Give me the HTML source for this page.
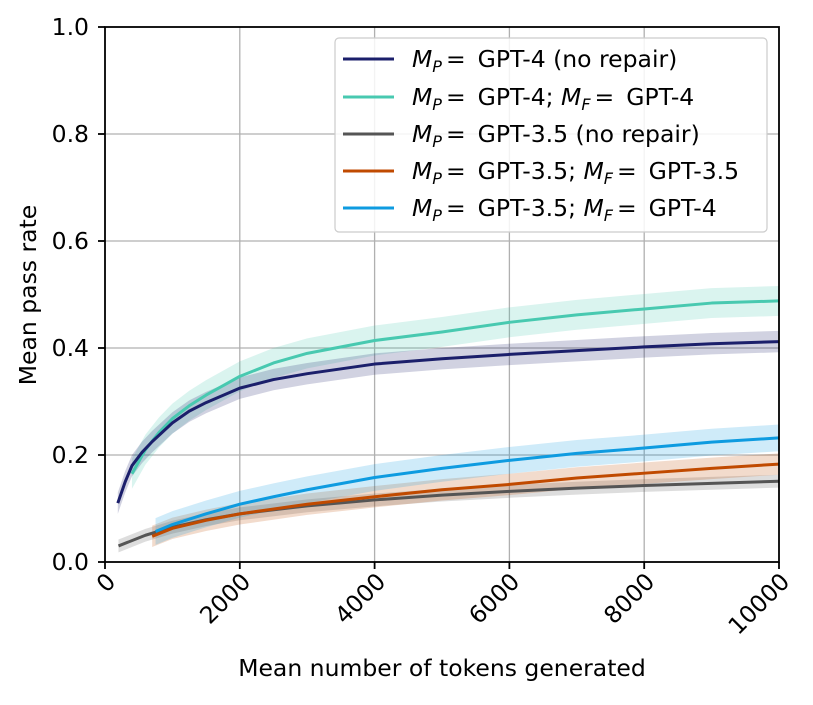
<!DOCTYPE html>
<html><head><meta charset="utf-8"><style>
body{margin:0;background:#fff}
svg text{font-family:"DejaVu Sans","Liberation Sans",sans-serif;fill:#000}
</style></head><body>
<svg id="s" width="813" height="700" viewBox="0 0 813 700" xmlns="http://www.w3.org/2000/svg">
<rect width="813" height="700" fill="#fff"/>
<g id="grid" stroke="#b0b0b0" stroke-width="1.3"></g>
<g id="series"></g>
<rect x="105" y="27" width="674" height="535" fill="none" stroke="#000" stroke-width="1.8"/>
<g id="ticks" stroke="#000" stroke-width="1.8"></g>
<g font-size="23.5" text-anchor="end">
<text x="89" y="570">0.0</text><text x="89" y="463">0.2</text><text x="89" y="356">0.4</text>
<text x="89" y="249">0.6</text><text x="89" y="142">0.8</text><text x="89" y="35">1.0</text>
</g>
<g font-size="23.5" text-anchor="end">
<text transform="translate(117,583) rotate(-45)">0</text>
<text transform="translate(252,583) rotate(-45)">2000</text>
<text transform="translate(387,583) rotate(-45)">4000</text>
<text transform="translate(521,583) rotate(-45)">6000</text>
<text transform="translate(656,583) rotate(-45)">8000</text>
<text transform="translate(791,583) rotate(-45)">10000</text>
</g>
<text x="442" y="676" font-size="23.5" text-anchor="middle">Mean number of tokens generated</text>
<text transform="translate(36,295) rotate(-90)" font-size="23.5" text-anchor="middle">Mean pass rate</text>
<rect x="335" y="38" width="432" height="194" rx="4" fill="#fff" fill-opacity="0.85" stroke="#ccc" stroke-width="1.2"/>
<g stroke-width="3">
<line x1="343" x2="394" y1="59" y2="59" stroke="#1b1f6b"/>
<line x1="343" x2="394" y1="97" y2="97" stroke="#48c9b0"/>
<line x1="343" x2="394" y1="134" y2="134" stroke="#555"/>
<line x1="343" x2="394" y1="171" y2="171" stroke="#c04a00"/>
<line x1="343" x2="394" y1="208" y2="208" stroke="#0e9be0"/>
</g>
<g font-size="23.5">
<text x="412" y="67"><tspan font-style="italic">M</tspan><tspan font-style="italic" font-size="16" dy="5">P</tspan><tspan dy="-5" dx="4">=</tspan><tspan dx="12">GPT-4 (no repair)</tspan></text>
<text x="412" y="105"><tspan font-style="italic">M</tspan><tspan font-style="italic" font-size="16" dy="5">P</tspan><tspan dy="-5" dx="4">=</tspan><tspan dx="12">GPT-4; </tspan><tspan font-style="italic">M</tspan><tspan font-style="italic" font-size="16" dy="5">F</tspan><tspan dy="-5" dx="4">=</tspan><tspan dx="12">GPT-4</tspan></text>
<text x="412" y="142"><tspan font-style="italic">M</tspan><tspan font-style="italic" font-size="16" dy="5">P</tspan><tspan dy="-5" dx="4">=</tspan><tspan dx="12">GPT-3.5 (no repair)</tspan></text>
<text x="412" y="179"><tspan font-style="italic">M</tspan><tspan font-style="italic" font-size="16" dy="5">P</tspan><tspan dy="-5" dx="4">=</tspan><tspan dx="12">GPT-3.5; </tspan><tspan font-style="italic">M</tspan><tspan font-style="italic" font-size="16" dy="5">F</tspan><tspan dy="-5" dx="4">=</tspan><tspan dx="12">GPT-3.5</tspan></text>
<text x="412" y="216"><tspan font-style="italic">M</tspan><tspan font-style="italic" font-size="16" dy="5">P</tspan><tspan dy="-5" dx="4">=</tspan><tspan dx="12">GPT-3.5; </tspan><tspan font-style="italic">M</tspan><tspan font-style="italic" font-size="16" dy="5">F</tspan><tspan dy="-5" dx="4">=</tspan><tspan dx="12">GPT-4</tspan></text>
</g>
<script>
(function(){
var NS="http://www.w3.org/2000/svg";
function X(t){return 105+t*0.0674}function Y(v){return 562-v*535}
var g=document.getElementById('grid'),tk=document.getElementById('ticks');
[2000,4000,6000,8000].forEach(function(t){var l=document.createElementNS(NS,'line');l.setAttribute('x1',X(t));l.setAttribute('x2',X(t));l.setAttribute('y1',27);l.setAttribute('y2',562);g.appendChild(l);});
[0.2,0.4,0.6,0.8].forEach(function(v){var l=document.createElementNS(NS,'line');l.setAttribute('x1',105);l.setAttribute('x2',779);l.setAttribute('y1',Y(v));l.setAttribute('y2',Y(v));g.appendChild(l);});
[0,2000,4000,6000,8000,10000].forEach(function(t){var l=document.createElementNS(NS,'line');l.setAttribute('x1',X(t));l.setAttribute('x2',X(t));l.setAttribute('y1',562);l.setAttribute('y2',569);tk.appendChild(l);});
[0,0.2,0.4,0.6,0.8,1].forEach(function(v){var l=document.createElementNS(NS,'line');l.setAttribute('x1',98);l.setAttribute('x2',105);l.setAttribute('y1',Y(v));l.setAttribute('y2',Y(v));tk.appendChild(l);});
var S=[
["#555",0.012,[[200,0.03],[600,0.05],[1000,0.065],[1500,0.079],[2000,0.09],[3000,0.105],[4000,0.116],[5000,0.125],[6000,0.132],[7000,0.138],[8000,0.143],[9000,0.147],[10000,0.151]]],
["#c04a00",0.02,[[700,0.048],[1000,0.063],[1500,0.078],[2000,0.09],[3000,0.108],[4000,0.122],[5000,0.135],[6000,0.145],[7000,0.157],[8000,0.166],[9000,0.175],[10000,0.183]]],
["#0e9be0",0.025,[[750,0.057],[1000,0.07],[1500,0.09],[2000,0.108],[2500,0.122],[3000,0.135],[4000,0.158],[5000,0.175],[6000,0.19],[7000,0.203],[8000,0.213],[9000,0.224],[10000,0.232]]],
["#48c9b0",0.028,[[400,0.165],[600,0.21],[800,0.242],[1000,0.268],[1250,0.292],[1500,0.312],[2000,0.347],[2500,0.372],[3000,0.39],[4000,0.414],[5000,0.43],[6000,0.448],[7000,0.462],[8000,0.473],[9000,0.484],[10000,0.488]]],
["#1b1f6b",0.02,[[190,0.11],[300,0.15],[400,0.18],[550,0.205],[700,0.225],[1000,0.26],[1250,0.282],[1500,0.298],[2000,0.325],[2500,0.341],[3000,0.352],[4000,0.37],[5000,0.38],[6000,0.388],[7000,0.395],[8000,0.402],[9000,0.408],[10000,0.412]]]
];
var sg=document.getElementById('series');
S.forEach(function(s){
 var c=s[0],w=s[1],p=s[2];
 var up=p.map(function(q){return X(q[0])+','+Y(q[1]+w)});
 var dn=p.slice().reverse().map(function(q){return X(q[0])+','+Y(q[1]-w)});
 var a=document.createElementNS(NS,'polygon');a.setAttribute('points',up.concat(dn).join(' '));a.setAttribute('fill',c);a.setAttribute('fill-opacity','0.2');sg.appendChild(a);
});
S.forEach(function(s){
 var l=document.createElementNS(NS,'polyline');l.setAttribute('points',s[2].map(function(q){return X(q[0])+','+Y(q[1])}).join(' '));
 l.setAttribute('fill','none');l.setAttribute('stroke',s[0]);l.setAttribute('stroke-width','3');l.setAttribute('stroke-linejoin','round');sg.appendChild(l);
});
})();
</script>
</svg>
</body></html>
